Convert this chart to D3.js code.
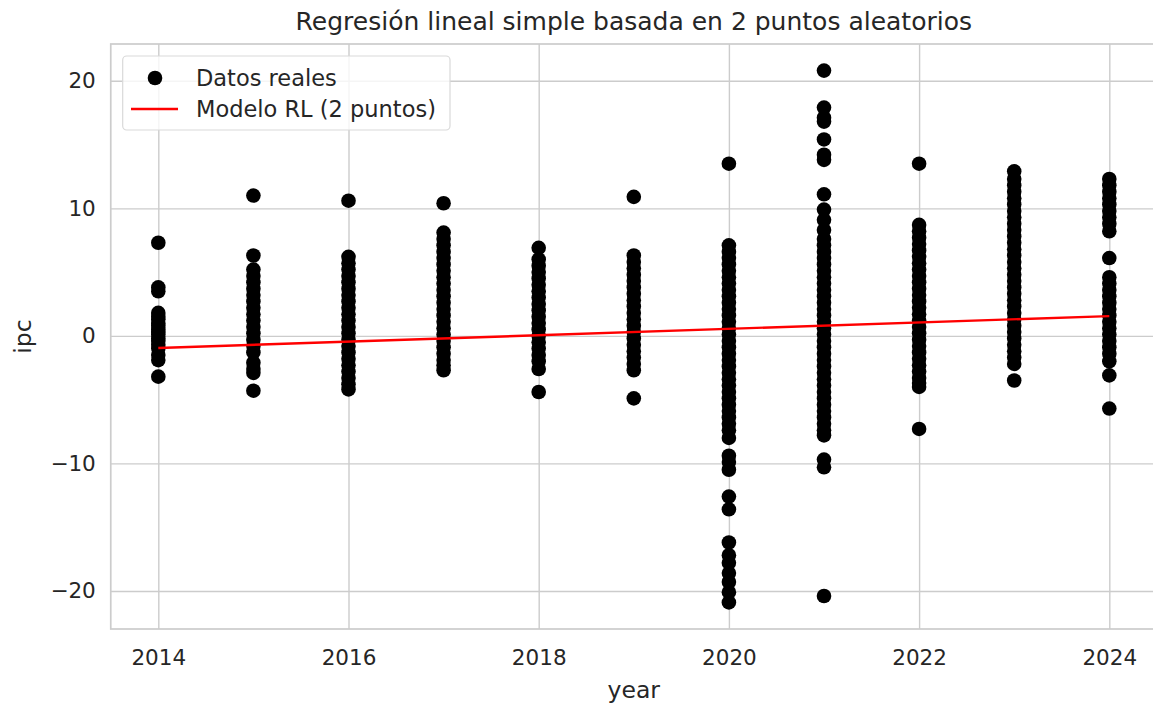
<!DOCTYPE html>
<html>
<head>
<meta charset="utf-8">
<script src="https://cdn.jsdelivr.net/npm/d3@7"></script>
<style>
  body { margin: 0; background: #fff; }
  text { font-family: "DejaVu Sans", sans-serif; fill: #262626; }
</style>
</head>
<body>
<div id="grafico"></div>
<script>
const anios = [2014, 2015, 2016, 2017, 2018, 2019, 2020, 2021, 2022, 2023, 2024];
const ticksX = [2014, 2016, 2018, 2020, 2022, 2024];
const ticksY = [-20, -10, 0, 10, 20];

const ipc2014 = [7.3, 3.8, 3.5, 1.8, 1.5, 1.3, 1.0, 0.8, 0.5, 0.3, 0.1, -0.2, -0.4, -0.7, -1.0, -1.5, -1.9, -3.2];
const ipc2015 = [11.0, 6.3, 5.2, 4.7, 4.2, 3.7, 3.2, 2.7, 2.2, 1.7, 1.2, 0.7, 0.2, -0.3, -0.8, -1.3, -2.1, -2.6, -2.9, -4.3];
const ipc2016 = [10.6, 6.2, 5.7, 5.2, 4.7, 4.2, 3.7, 3.2, 2.7, 2.2, 1.7, 1.2, 0.7, 0.2, -0.3, -0.8, -1.3, -1.8, -2.3, -2.8, -3.3, -3.8, -4.2];
const ipc2017 = [10.4, 8.1, 7.6, 7.1, 6.6, 6.1, 5.6, 5.1, 4.6, 4.1, 3.6, 3.1, 2.6, 2.1, 1.6, 1.1, 0.6, 0.1, -0.4, -0.9, -1.4, -1.9, -2.3, -2.7];
const ipc2018 = [6.9, 6.0, 5.5, 5.0, 4.5, 4.0, 3.5, 3.0, 2.5, 2.0, 1.5, 1.0, 0.5, 0.0, -0.5, -1.0, -1.5, -2.0, -2.6, -4.4];
const ipc2019 = [10.9, 6.3, 5.8, 5.3, 4.8, 4.3, 3.8, 3.3, 2.8, 2.3, 1.8, 1.3, 0.8, 0.3, -0.2, -0.7, -1.2, -1.7, -2.2, -2.7, -4.9];
const ipc2020 = [13.5, 7.1, 6.6, 6.1, 5.6, 5.1, 4.6, 4.1, 3.6, 3.1, 2.6, 2.1, 1.6, 1.1, 0.6, 0.1, -0.4, -0.9, -1.4, -1.9, -2.4, -2.9, -3.4, -3.9, -4.4, -4.9, -5.4, -5.9, -6.4, -6.9, -7.4, -8.0, -9.4, -9.9, -10.5, -12.6, -13.6, -16.2, -17.2, -17.8, -18.6, -19.3, -20.1, -20.9];
const ipc2021 = [20.8, 17.9, 17.1, 16.8, 15.4, 14.2, 13.8, 11.1, 9.9, 9.1, 8.3, 7.6, 7.1, 6.6, 6.1, 5.6, 5.1, 4.6, 4.1, 3.6, 3.1, 2.6, 2.1, 1.6, 1.1, 0.6, 0.1, -0.4, -0.9, -1.4, -1.9, -2.4, -2.9, -3.4, -3.9, -4.4, -4.9, -5.4, -5.9, -6.4, -6.9, -7.4, -7.8, -9.7, -10.3, -20.4];
const ipc2022 = [13.5, 8.7, 8.2, 7.7, 7.2, 6.7, 6.2, 5.7, 5.2, 4.7, 4.2, 3.7, 3.2, 2.7, 2.2, 1.7, 1.2, 0.7, 0.2, -0.3, -0.8, -1.3, -1.8, -2.3, -2.8, -3.3, -3.7, -4.0, -7.3];
const ipc2023 = [12.9, 12.3, 11.8, 11.3, 10.8, 10.3, 9.8, 9.3, 8.8, 8.3, 7.8, 7.3, 6.8, 6.3, 5.8, 5.3, 4.8, 4.3, 3.8, 3.3, 2.8, 2.3, 1.8, 1.3, 0.8, 0.3, -0.2, -0.7, -1.2, -1.7, -2.2, -3.5];
const ipc2024 = [12.3, 11.8, 11.3, 10.8, 10.3, 9.8, 9.3, 8.8, 8.2, 6.1, 4.6, 4.1, 3.6, 3.1, 2.6, 2.1, 1.6, 1.1, 0.6, 0.1, -0.4, -0.9, -1.4, -2.0, -3.1, -5.7];

// modelo de regresión (recta por 2 puntos)
const modeloX = [2014, 2024];
const modeloY = [-0.95, 1.55];

const ancho = 1153;
const alto = 708;
const margen = { izq: 110.75, der: 1156.85, arriba: 44, abajo: 629 };
const colorGrid = "#cccccc";

function graficar() {
  const ipcPorAnio = [ipc2014, ipc2015, ipc2016, ipc2017, ipc2018, ipc2019, ipc2020, ipc2021, ipc2022, ipc2023, ipc2024];
  const puntos = anios.flatMap((a, i) => ipcPorAnio[i].map(v => ({ year: a, ipc: v })));

  const svg = d3.select("#grafico")
    .append("svg")
    .attr("width", ancho)
    .attr("height", alto);

  // dominio con 5% de margen como matplotlib
  const ex = d3.extent(puntos, d => d.year);
  const ey = d3.extent(puntos, d => d.ipc);
  const px = (ex[1] - ex[0]) * 0.05;
  const py = (ey[1] - ey[0]) * 0.05;

  const x = d3.scaleLinear().domain([ex[0] - px, ex[1] + px]).range([margen.izq, margen.der]);
  const y = d3.scaleLinear().domain([ey[0] - py, ey[1] + py]).range([margen.abajo, margen.arriba]);

  const altoPlot = margen.abajo - margen.arriba;
  const anchoPlot = margen.der - margen.izq;

  const ejeX = svg.append("g")
    .attr("transform", `translate(0,${margen.abajo})`)
    .call(d3.axisBottom(x).tickValues(ticksX).tickFormat(d3.format("d")).tickSize(-altoPlot).tickPadding(21));

  const ejeY = svg.append("g")
    .attr("transform", `translate(${margen.izq},0)`)
    .call(d3.axisLeft(y).tickValues(ticksY).tickSize(-anchoPlot).tickPadding(15));

  [ejeX, ejeY].forEach(eje => {
    eje.select(".domain").remove();
    eje.selectAll(".tick line").attr("stroke", colorGrid).attr("stroke-width", 1.4);
    eje.selectAll(".tick text")
      .attr("fill", "#262626")
      .style("font-size", "21.5px")
      .style("font-family", "DejaVu Sans");
  });

  // puntos
  svg.append("g")
    .selectAll("circle")
    .data(puntos)
    .enter().append("circle")
    .attr("cx", d => x(d.year))
    .attr("cy", d => y(d.ipc))
    .attr("r", 7.3)
    .attr("fill", "black");

  // recta del modelo
  const linea = d3.line()
    .x((d, i) => x(modeloX[i]))
    .y(d => y(d));

  svg.append("path")
    .datum(modeloY)
    .attr("d", linea)
    .attr("fill", "none")
    .attr("stroke", "red")
    .attr("stroke-width", 2.4);

  // marco
  svg.append("rect")
    .attr("x", margen.izq)
    .attr("y", margen.arriba)
    .attr("width", anchoPlot)
    .attr("height", altoPlot)
    .attr("fill", "none")
    .attr("stroke", colorGrid)
    .attr("stroke-width", 1.7);

  // titulos
  svg.append("text")
    .attr("x", (margen.izq + margen.der) / 2)
    .attr("y", 30)
    .attr("text-anchor", "middle")
    .style("font-size", "25px")
    .text("Regresión lineal simple basada en 2 puntos aleatorios");

  svg.append("text")
    .attr("x", (margen.izq + margen.der) / 2)
    .attr("y", 698)
    .attr("text-anchor", "middle")
    .style("font-size", "23.5px")
    .text("year");

  svg.append("text")
    .attr("transform", `translate(31,${(margen.arriba + margen.abajo) / 2}) rotate(-90)`)
    .attr("text-anchor", "middle")
    .style("font-size", "23.5px")
    .text("ipc");

  dibujarLeyenda(svg);
}

function dibujarLeyenda(svg) {
  const g = svg.append("g");
  g.append("rect")
    .attr("x", 122.7)
    .attr("y", 56)
    .attr("width", 327.3)
    .attr("height", 74)
    .attr("rx", 4)
    .attr("fill", "white")
    .attr("fill-opacity", 0.8)
    .attr("stroke", "#d9d9d9")
    .attr("stroke-width", 1.2);

  g.append("circle")
    .attr("cx", 155)
    .attr("cy", 78)
    .attr("r", 7.3)
    .attr("fill", "black");

  g.append("line")
    .attr("x1", 131)
    .attr("x2", 178)
    .attr("y1", 109)
    .attr("y2", 109)
    .attr("stroke", "red")
    .attr("stroke-width", 2.4);

  const etiquetas = ["Datos reales", "Modelo RL (2 puntos)"];
  g.selectAll("text.leyenda")
    .data(etiquetas)
    .enter().append("text")
    .attr("class", "leyenda")
    .attr("x", 196)
    .attr("y", (d, i) => 78 + i * 31)
    .attr("dy", "0.36em")
    .style("font-size", "22.5px")
    .text(d => d);
}

graficar();
</script>
</body>
</html>
